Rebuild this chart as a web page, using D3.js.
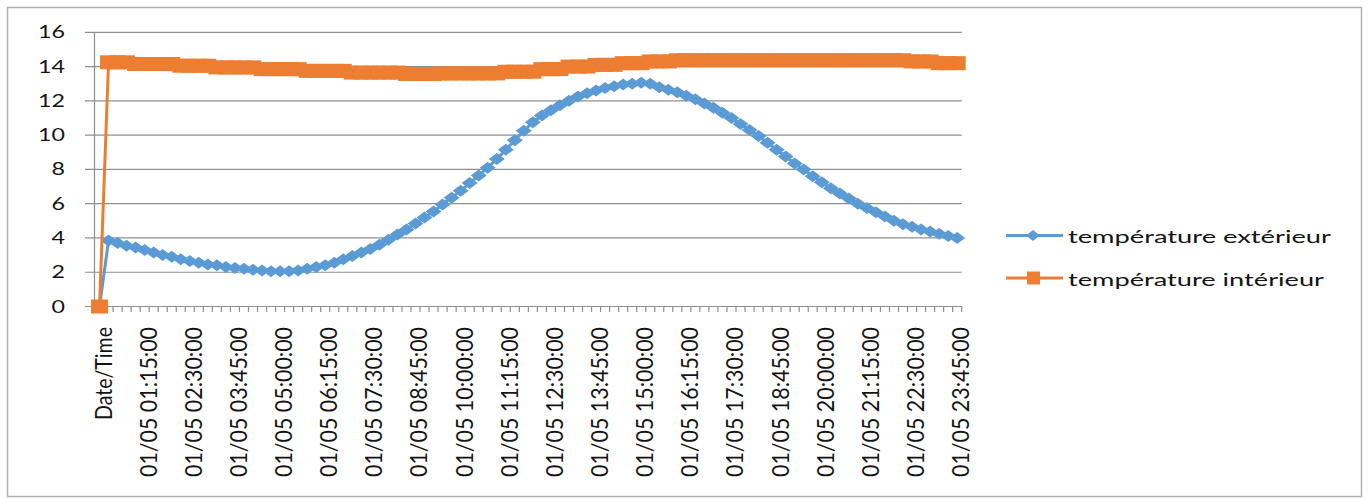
<!DOCTYPE html>
<html><head><meta charset="utf-8">
<script src="https://cdn.jsdelivr.net/npm/d3@7"></script>
<style>html,body{margin:0;padding:0;background:#fff;}svg{display:block;}</style>
</head><body>
<svg id="chart" width="1368" height="499"></svg>
<script>
const categories = ["Date/Time",
"01/05 00:15:00","01/05 00:30:00","01/05 00:45:00","01/05 01:00:00","01/05 01:15:00","01/05 01:30:00","01/05 01:45:00","01/05 02:00:00",
"01/05 02:15:00","01/05 02:30:00","01/05 02:45:00","01/05 03:00:00","01/05 03:15:00","01/05 03:30:00","01/05 03:45:00","01/05 04:00:00",
"01/05 04:15:00","01/05 04:30:00","01/05 04:45:00","01/05 05:00:00","01/05 05:15:00","01/05 05:30:00","01/05 05:45:00","01/05 06:00:00",
"01/05 06:15:00","01/05 06:30:00","01/05 06:45:00","01/05 07:00:00","01/05 07:15:00","01/05 07:30:00","01/05 07:45:00","01/05 08:00:00",
"01/05 08:15:00","01/05 08:30:00","01/05 08:45:00","01/05 09:00:00","01/05 09:15:00","01/05 09:30:00","01/05 09:45:00","01/05 10:00:00",
"01/05 10:15:00","01/05 10:30:00","01/05 10:45:00","01/05 11:00:00","01/05 11:15:00","01/05 11:30:00","01/05 11:45:00","01/05 12:00:00",
"01/05 12:15:00","01/05 12:30:00","01/05 12:45:00","01/05 13:00:00","01/05 13:15:00","01/05 13:30:00","01/05 13:45:00","01/05 14:00:00",
"01/05 14:15:00","01/05 14:30:00","01/05 14:45:00","01/05 15:00:00","01/05 15:15:00","01/05 15:30:00","01/05 15:45:00","01/05 16:00:00",
"01/05 16:15:00","01/05 16:30:00","01/05 16:45:00","01/05 17:00:00","01/05 17:15:00","01/05 17:30:00","01/05 17:45:00","01/05 18:00:00",
"01/05 18:15:00","01/05 18:30:00","01/05 18:45:00","01/05 19:00:00","01/05 19:15:00","01/05 19:30:00","01/05 19:45:00","01/05 20:00:00",
"01/05 20:15:00","01/05 20:30:00","01/05 20:45:00","01/05 21:00:00","01/05 21:15:00","01/05 21:30:00","01/05 21:45:00","01/05 22:00:00",
"01/05 22:15:00","01/05 22:30:00","01/05 22:45:00","01/05 23:00:00","01/05 23:15:00","01/05 23:30:00","01/05 23:45:00"];

const tempExterieur = [0,
3.85,3.7,3.55,3.45,3.3,3.15,3.0,2.9,2.75,2.65,
2.55,2.45,2.4,2.3,2.25,2.2,2.15,2.1,2.05,2.05,
2.05,2.1,2.2,2.3,2.4,2.55,2.75,2.95,3.15,3.35,
3.6,3.9,4.2,4.5,4.85,5.2,5.55,5.95,6.35,6.75,
7.2,7.65,8.1,8.6,9.15,9.7,10.25,10.75,11.15,11.45,
11.75,12.0,12.25,12.45,12.6,12.75,12.85,12.95,13.0,13.05,
13.0,12.8,12.65,12.5,12.3,12.1,11.85,11.6,11.3,11.0,
10.65,10.3,9.95,9.55,9.15,8.75,8.35,8.0,7.6,7.25,
6.9,6.6,6.3,6.0,5.75,5.5,5.25,5.0,4.8,4.65,
4.5,4.38,4.25,4.12,4.0];

const tempInterieur = [0,
14.25,14.25,14.25,14.15,14.15,14.15,14.15,14.15,14.05,14.05,
14.05,14.05,13.95,13.95,13.95,13.95,13.95,13.85,13.85,13.85,
13.85,13.85,13.75,13.75,13.75,13.75,13.75,13.65,13.65,13.65,
13.65,13.65,13.65,13.57,13.57,13.57,13.57,13.6,13.6,13.6,
13.6,13.6,13.6,13.6,13.7,13.7,13.7,13.7,13.85,13.85,
13.85,14.0,14.0,14.0,14.1,14.1,14.1,14.2,14.2,14.2,
14.3,14.3,14.3,14.37,14.37,14.37,14.37,14.37,14.37,14.37,
14.37,14.37,14.37,14.37,14.37,14.37,14.37,14.37,14.37,14.37,
14.37,14.37,14.37,14.37,14.37,14.37,14.37,14.37,14.37,14.3,
14.3,14.3,14.2,14.2,14.2];

const seriesNames = ["température extérieur","température intérieur"];
const seriesColors = ["#5B9BD5","#ED7D31"];
const yTicks = [0,2,4,6,8,10,12,14,16];
const labelEvery = 5;

const svg = d3.select("#chart");
const FONT = "Lato, 'Open Sans', sans-serif";
const TXT = "#141414";
const GRID = "#8f8f8f";

// chart border
svg.append("rect").attr("x",7.5).attr("y",7.5).attr("width",1354).attr("height",489)
  .attr("fill","#fff").attr("stroke","#b0b0b0").attr("stroke-width",1.5);

const x = d3.scaleBand().domain(categories).range([95, 961.7]).padding(0);
const bw = x.bandwidth();
const cx = c => x(c) + bw/2;
const y = d3.scaleLinear().domain([0,16]).range([306.5, 32.3]);

// gridlines + y ticks
const gy = svg.append("g");
gy.selectAll("line.grid").data(yTicks).join("line")
  .attr("x1",85).attr("x2",961.7)
  .attr("y1",d=>y(d)).attr("y2",d=>y(d))
  .attr("stroke",GRID).attr("stroke-width",1.2);
gy.selectAll("text").data(yTicks).join("text")
  .attr("x",65).attr("y",d=>y(d)+6)
  .attr("text-anchor","end")
  .attr("font-family",FONT).attr("font-size",17).attr("fill",TXT)
  .attr("textLength",d=>String(d).length*13.5).attr("lengthAdjust","spacingAndGlyphs")
  .text(d=>d);

// y axis line
svg.append("line").attr("x1",94.5).attr("x2",94.5).attr("y1",y(16)).attr("y2",y(0))
  .attr("stroke",GRID).attr("stroke-width",1.2);

// x ticks at category boundaries
const bounds = categories.map(c=>x(c)).concat([x(categories[categories.length-1])+bw]);
svg.append("g").selectAll("line").data(bounds).join("line")
  .attr("x1",d=>d).attr("x2",d=>d).attr("y1",y(0)).attr("y2",y(0)+5.5)
  .attr("stroke",GRID).attr("stroke-width",1.2);

// x labels
svg.append("g").selectAll("text")
  .data(categories.filter((c,i)=>i%labelEvery===0))
  .join("text")
  .attr("transform",d=>`translate(${cx(d)},327) rotate(-90)`)
  .attr("dy",12)
  .attr("text-anchor","end")
  .attr("font-family",FONT).attr("font-size",24).attr("fill",TXT)
  .attr("textLength",d=>d==="Date/Time"?93:150).attr("lengthAdjust","spacingAndGlyphs")
  .text(d=>d);

// series
const line = d3.line().x((d,i)=>cx(categories[i])).y(d=>y(d));

// exterior
svg.append("path").datum(tempExterieur).attr("d",line)
  .attr("fill","none").attr("stroke",seriesColors[0]).attr("stroke-width",3).attr("stroke-linejoin","round");
const diamond = (w,h)=>`M0,${-h/2}L${w/2},0L0,${h/2}L${-w/2},0Z`;
svg.append("g").selectAll("path").data(tempExterieur).join("path")
  .attr("transform",(d,i)=>`translate(${cx(categories[i])},${y(d)})`)
  .attr("d",diamond(16,12)).attr("fill",seriesColors[0]);

// interior
svg.append("path").datum(tempInterieur).attr("d",line)
  .attr("fill","none").attr("stroke",seriesColors[1]).attr("stroke-width",3).attr("stroke-linejoin","round");
svg.append("g").selectAll("rect").data(tempInterieur).join("rect")
  .attr("x",(d,i)=>cx(categories[i])-8.5).attr("y",d=>y(d)-7)
  .attr("width",17).attr("height",14).attr("fill",seriesColors[1]);

// legend
const legY = [235.5, 278];
const leg = svg.append("g");
seriesNames.forEach((name,k)=>{
  const g = leg.append("g");
  g.append("line").attr("x1",1006).attr("x2",1063).attr("y1",legY[k]).attr("y2",legY[k])
    .attr("stroke",seriesColors[k]).attr("stroke-width",3);
  if(k===0){
    g.append("path").attr("transform",`translate(1033,${legY[k]})`).attr("d",diamond(14,11)).attr("fill",seriesColors[k]);
  } else {
    g.append("rect").attr("x",1027).attr("y",legY[k]-6.5).attr("width",13).attr("height",13).attr("fill",seriesColors[k]);
  }
  g.append("text").attr("x",1068).attr("y",legY[k]+7.5)
    .attr("font-family",FONT).attr("font-size",17).attr("fill",TXT)
    .attr("textLength",k===0?263:256).attr("lengthAdjust","spacingAndGlyphs")
    .text(name);
});
</script>
</body></html>
